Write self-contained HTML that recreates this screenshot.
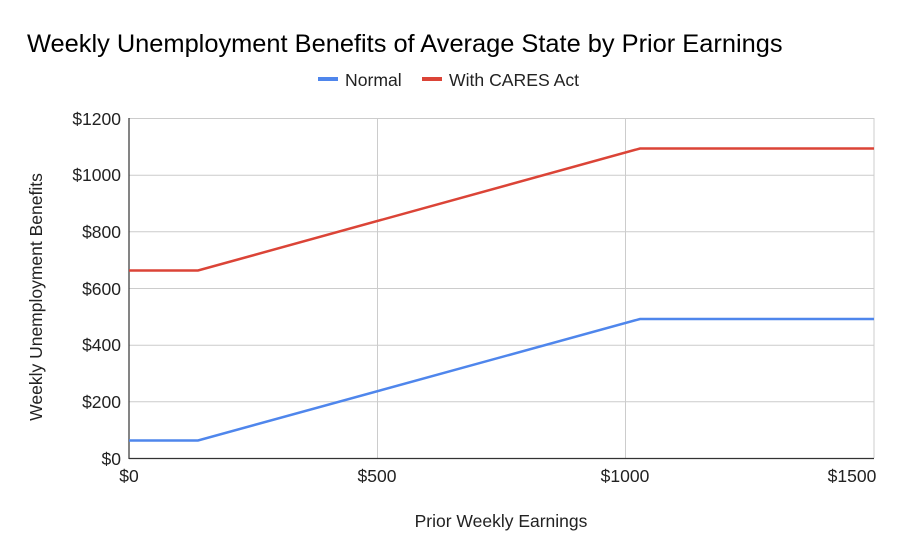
<!DOCTYPE html>
<html><head><style>body{margin:0;background:#fff}svg{display:block}</style></head><body>
<svg width="900" height="550" xmlns="http://www.w3.org/2000/svg" font-family="Liberation Sans, sans-serif">
<rect width="900" height="550" fill="#fff"/>
<text x="27" y="52" font-size="25.4" fill="#000">Weekly Unemployment Benefits of Average State by Prior Earnings</text>
<rect x="318" y="77" width="20" height="4" fill="#4f86ec"/>
<text x="345" y="86" font-size="17.6" fill="#222">Normal</text>
<rect x="422" y="77" width="20" height="4" fill="#db4437"/>
<text x="449" y="86" font-size="17.6" fill="#222">With CARES Act</text>
<g stroke="#ccc" stroke-width="1">
<line x1="129" y1="118.5" x2="874" y2="118.5"/>
<line x1="129" y1="175.2" x2="874" y2="175.2"/>
<line x1="129" y1="231.8" x2="874" y2="231.8"/>
<line x1="129" y1="288.5" x2="874" y2="288.5"/>
<line x1="129" y1="345.2" x2="874" y2="345.2"/>
<line x1="129" y1="401.8" x2="874" y2="401.8"/>
<line x1="377.5" y1="118" x2="377.5" y2="458"/>
<line x1="625.5" y1="118" x2="625.5" y2="458"/>
<line x1="874" y1="118" x2="874" y2="458"/>
</g>
<line x1="129" y1="118" x2="129" y2="459" stroke="#333" stroke-width="1.2"/>
<line x1="129" y1="458.5" x2="874" y2="458.5" stroke="#333" stroke-width="1.2"/>
<polyline points="129,440.5 198,440.5 640,319 874,319" fill="none" stroke="#4f86ec" stroke-width="2.5"/>
<polyline points="129,270.5 198,270.5 640,148.5 874,148.5" fill="none" stroke="#db4437" stroke-width="2.5"/>
<g font-size="17.5" fill="#222" text-anchor="end">
<text x="121" y="125">$1200</text>
<text x="121" y="181">$1000</text>
<text x="121" y="238">$800</text>
<text x="121" y="295">$600</text>
<text x="121" y="351">$400</text>
<text x="121" y="408">$200</text>
<text x="121" y="465">$0</text>
</g>
<g font-size="17.5" fill="#222" text-anchor="middle">
<text x="129" y="482">$0</text>
<text x="377" y="482">$500</text>
<text x="625" y="482">$1000</text>
<text x="852" y="482">$1500</text>
<text x="501" y="527">Prior Weekly Earnings</text>
</g>
<text transform="translate(42,297) rotate(-90)" font-size="17.5" fill="#222" text-anchor="middle">Weekly Unemployment Benefits</text>
</svg>
</body></html>
